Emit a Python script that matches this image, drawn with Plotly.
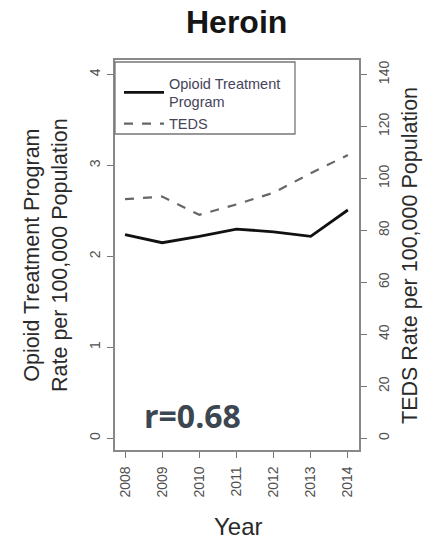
import plotly.graph_objects as go

years = [2008, 2009, 2010, 2011, 2012, 2013, 2014]
otp_rate = [2.24, 2.15, 2.22, 2.30, 2.27, 2.22, 2.51]
teds_rate = [92.0, 93.0, 86.0, 90.0, 94.5, 102.0, 109.0]
left_ticks = [0, 1, 2, 3, 4]
right_ticks = [0, 20, 40, 60, 80, 100, 120, 140]

W, H = 433, 543
L, R, T, B = 115, 74, 60, 93
pw, ph = W - L - R, H - T - B

def px(x):
    return (x - L) / pw

def py(y):
    return (H - B - y) / ph

fig = go.Figure()
fig.add_trace(go.Scatter(x=years, y=otp_rate, mode="lines", name="Opioid Treatment<br>Program",
                         line=dict(color="#111111", width=2.8)))
fig.add_trace(go.Scatter(x=years, y=teds_rate, mode="lines", name="TEDS", yaxis="y2",
                         line=dict(color="#666666", width=2.2, dash="dash")))

axis_font = dict(family="Liberation Sans, Arial", size=14, color="#505050")
fig.update_layout(
    width=W, height=H,
    margin=dict(l=L, r=R, t=T, b=B),
    plot_bgcolor="white", paper_bgcolor="white",
    showlegend=True,
    legend=dict(x=px(119), y=py(67), xanchor="left", yanchor="top",
                bgcolor="rgba(0,0,0,0)", borderwidth=0, itemwidth=40,
                font=dict(family="Liberation Sans, Arial", size=14.5, color="#44445a"),
                tracegroupgap=0),
    xaxis=dict(range=[2007.73, 2014.3], tickvals=years, ticktext=[str(y) for y in years],
               tickangle=-90, ticks="outside", ticklen=6, tickcolor="#777777",
               ticklabelstandoff=3,
               showline=True, linecolor="#888888", linewidth=1.5, mirror=True,
               showgrid=False, zeroline=False, tickfont=axis_font),
    yaxis=dict(range=[-0.13, 4.16], tickvals=left_ticks, tickangle=-90,
               ticks="outside", ticklen=6, tickcolor="#777777",
               ticklabelstandoff=2,
               showline=True, linecolor="#888888", linewidth=1.5, mirror=True,
               showgrid=False, zeroline=False, tickfont=axis_font),
    yaxis2=dict(range=[-0.13 * 35, 4.16 * 35], tickvals=right_ticks, tickangle=-90,
                overlaying="y", side="right",
                ticks="outside", ticklen=6, tickcolor="#777777",
                ticklabelstandoff=5,
                showline=True, linecolor="#888888", linewidth=1.5,
                showgrid=False, zeroline=False, tickfont=axis_font),
)

# legend frame
fig.add_shape(type="rect", xref="paper", yref="paper",
              x0=px(115), x1=px(295), y0=py(134), y1=py(62),
              line=dict(color="#777777", width=1.3), fillcolor="rgba(0,0,0,0)", layer="above")

title_font = "Liberation Sans, Arial"
ann = [
    dict(text="<b>Heroin</b>", x=px(236), y=py(22), font=dict(family=title_font, size=32, color="#151515"),
         xanchor="center", yanchor="middle", textangle=0),
    dict(text="Opioid Treatment Program<br>Rate per 100,000 Population", x=px(46), y=py(255),
         font=dict(family=title_font, size=21.5, color="#2a2a2a"),
         xanchor="center", yanchor="middle", textangle=-90),
    dict(text="TEDS Rate per 100,000 Population", x=px(410), y=py(256),
         font=dict(family=title_font, size=21.5, color="#2a2a2a"),
         xanchor="center", yanchor="middle", textangle=-90),
    dict(text="Year", x=px(238), y=py(526),
         font=dict(family=title_font, size=24, color="#2a2a2a"),
         xanchor="center", yanchor="middle", textangle=0),
    dict(text="<b>r=0.68</b>", x=px(142), y=py(415),
         font=dict(family="Open Sans", size=32, color="#3b4650"),
         xanchor="left", yanchor="middle", textangle=0),
]
for a in ann:
    fig.add_annotation(xref="paper", yref="paper", showarrow=False, **a)

fig.write_html("out.html")
